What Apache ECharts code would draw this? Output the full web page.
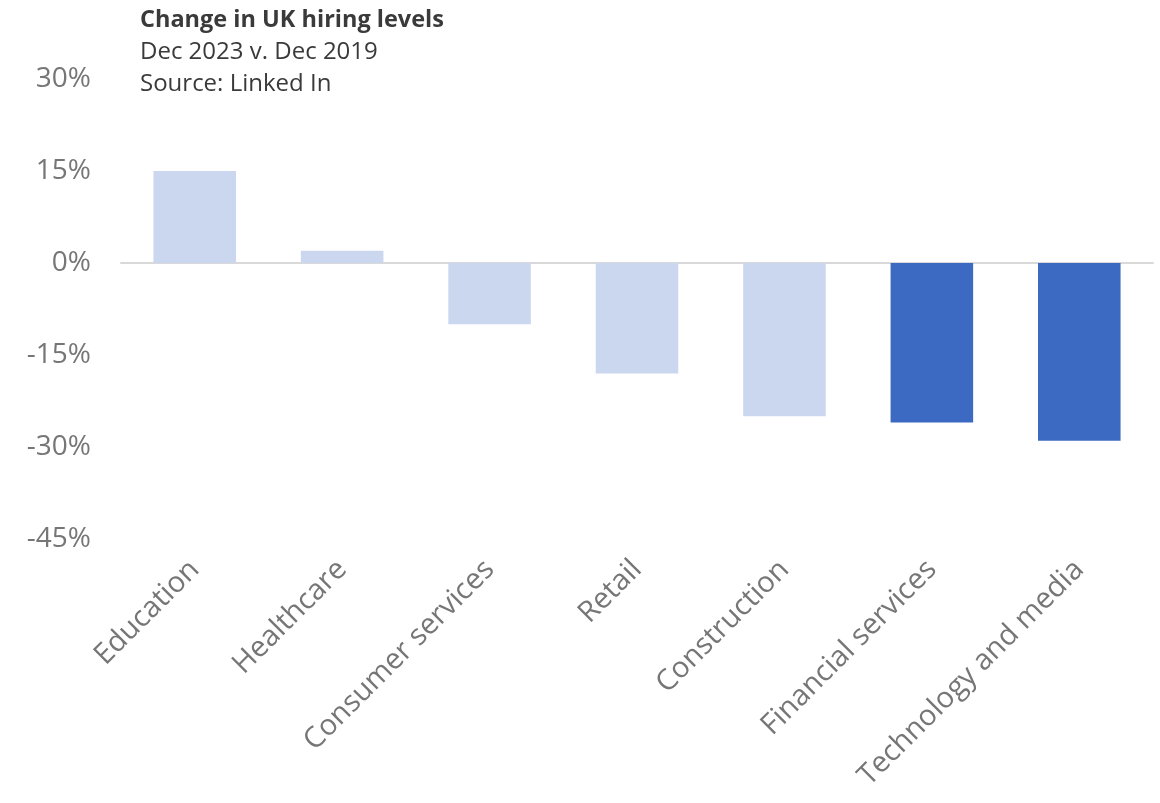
<!DOCTYPE html>
<html>
<head>
<meta charset="utf-8">
<script src="https://cdn.jsdelivr.net/npm/echarts@6/dist/echarts.min.js"></script>
<style>
  html, body { margin: 0; padding: 0; background: #fff; }
  #chart { width: 1160px; height: 803px; }
</style>
</head>
<body>
<div id="chart"></div>
<script>
// Sectors and change in hiring levels (%), Dec 2023 vs Dec 2019
const categories = ['Education', 'Healthcare', 'Consumer services', 'Retail', 'Construction', 'Financial services', 'Technology and media'];
const changes = [15, 2, -10, -18, -25, -26, -29];
// Sectors drawn in the highlight colour
const highlighted = ['Financial services', 'Technology and media'];

const yMin = -45, yMax = 30, yStep = 15;

const FONT = '"Open Sans", Lato, sans-serif';
const LIGHT = '#CBD7EF';
const DARK = '#3C69C2';

const chart = echarts.init(document.getElementById('chart'), null, { renderer: 'canvas' });

chart.setOption({
  animation: false,
  backgroundColor: '#ffffff',
  textStyle: { fontFamily: FONT },
  title: {
    left: 135,
    top: 0,
    itemGap: 0,
    text: 'Change in UK hiring levels',
    textStyle: { fontFamily: FONT, fontSize: 23.5, fontWeight: 'bold', color: '#3a3a3a', lineHeight: 31 },
    subtext: 'Dec 2023 v. Dec 2019\nSource: Linked In',
    subtextStyle: { fontFamily: FONT, fontSize: 24, color: '#3a3a3a', lineHeight: 32 }
  },
  grid: { left: 121, right: 7, top: 79, bottom: 264, containLabel: false },
  xAxis: {
    type: 'category',
    data: categories,
    axisLine: { onZero: true, lineStyle: { color: '#D9D9D9', width: 2 } },
    axisTick: { show: false },
    axisLabel: {
      interval: 0,
      rotate: 45,
      margin: 26,
      color: '#767676',
      fontFamily: FONT,
      fontSize: 29
    }
  },
  yAxis: {
    type: 'value',
    min: yMin,
    max: yMax,
    interval: yStep,
    axisLine: { show: false },
    axisTick: { show: false },
    splitLine: { show: false },
    axisLabel: {
      margin: 30,
      color: '#767676',
      fontFamily: FONT,
      fontSize: 28,
      formatter: v => v + '%'
    }
  },
  series: [{
    type: 'bar',
    barWidth: '56%',
    data: changes.map((v, i) => ({
      value: v,
      itemStyle: { color: highlighted.includes(categories[i]) ? DARK : LIGHT }
    }))
  }]
});
</script>
</body>
</html>
